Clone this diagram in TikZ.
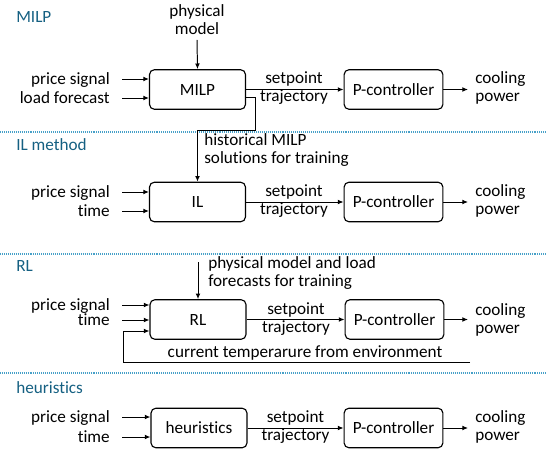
\documentclass[tikz,border=0pt]{standalone}
\usepackage{fontspec}
\setmainfont{Carlito}[Ligatures=NoCommon]
\usetikzlibrary{arrows.meta,positioning}
\definecolor{headblue}{RGB}{21,96,130}
\definecolor{sepblue}{RGB}{70,160,200}

\begin{document}
\begin{tikzpicture}[x=0.025cm,y=-0.025cm,
  every node/.style={font=\fontsize{12.2}{12.8}\selectfont},
  blk/.style={draw,rounded corners=3.5pt,line width=0.8pt,minimum width=2.4cm,minimum height=0.99cm,inner sep=0pt},
  pcb/.style={blk,minimum width=2.47cm},
  ttl/.style={headblue,anchor=west,inner sep=0pt},
  inl/.style={anchor=east,inner sep=0pt,text height=1.5ex,text depth=0pt},
  outl/.style={anchor=west,inner sep=0pt,align=left},
  arr/.style={-{Latex[length=4pt,width=3.4pt]},line width=0.7pt},
  inarr/.style={arr,shorten <=0.3cm},
  outarr/.style={arr,shorten >=0.175cm},
  sepline/.style={sepblue,line width=0.9pt,dash pattern=on 0.7pt off 0.7pt}]
  \useasboundingbox (0,0) rectangle (550,452);
  % separators
  \foreach \y in {132,254,373}
    \draw[sepline] (0,\y) -- (546,\y);

  % MILP
  \node[ttl] (tmilp) at (16,17) {MILP};
  \node[blk] (milp) at (197.5,89.5) {MILP};
  \node[pcb] (pc1) at (393.5,89.5) {P-controller};
  \node[align=center] (phys) at (197,20) {physical\\model};
  \node[inl] (p1) at (110,79) {price signal};
  \node[inl] (l1) at (110,98) {load forecast};
  \node[align=center] (s1) at (294,88) {setpoint\\trajectory};
  \node[outl] (c1) at (475,88) {cooling\\power};
  \draw[arr] (phys.south) -- (milp.north);
  \draw[inarr] (p1.east) -- (milp.west |- p1.east);
  \draw[inarr] (l1.east) -- (milp.west |- l1.east);
  \draw[arr] (milp) -- (pc1);
  \draw[outarr] (pc1.east) -- (pc1.east -| c1.west);
  % MILP solutions feed the IL training
  \coordinate (hk0) at (255,97);
  \coordinate (hk1) at (255,130);

  % IL method
  \node[ttl] (til) at (16,145) {IL method};
  \node[blk] (il) at (197.5,202) {IL};
  \node[pcb] (pc2) at (393.5,202) {P-controller};
  \node[outl] (hist) at (204,150) {historical MILP\\solutions for training};
  \node[inl] (p2) at (110,192) {price signal};
  \node[inl] (t2) at (110,211) {time};
  \node[align=center] (s2) at (294,201) {setpoint\\trajectory};
  \node[outl] (c2) at (475,201) {cooling\\power};
  \draw[arr] (milp.east |- hk0) -| (hk1) -| (il.north);
  \draw[inarr] (p2.east) -- (il.west |- p2.east);
  \draw[inarr] (t2.east) -- (il.west |- t2.east);
  \draw[arr] (il) -- (pc2);
  \draw[outarr] (pc2.east) -- (pc2.east -| c2.west);

  % RL
  \node[ttl] (trl) at (16,266) {RL};
  \node[blk] (rl) at (198,319.5) {RL};
  \node[pcb] (pc3) at (394.5,319.5) {P-controller};
  \node[outl] (train) at (208,273) {physical model and load\\forecasts for training};
  \node[inl] (p3) at (110,305) {price signal};
  \node[inl] (t3) at (110,320) {time};
  \node[align=center] (s3) at (296,319) {setpoint\\trajectory};
  \node[outl] (c3) at (475,320) {cooling\\power};
  \node (env) at (305,353) {current temperarure from environment};
  \coordinate (rtop) at (198,262);
  \coordinate (fbr) at (470,362);
  \coordinate (fbl) at (123,362);
  \coordinate (fbi) at (123,331);
  \draw[arr] (rtop) -- (rl.north);
  \draw[inarr] (p3.east) -- (rl.west |- p3.east);
  \draw[inarr] (t3.east) -- (rl.west |- t3.east);
  \draw[arr] (fbr) -- (fbl) -- (fbi) -- (rl.west |- fbi);
  \draw[arr] (rl) -- (pc3);
  \draw[outarr] (pc3.east) -- (pc3.east -| c3.west);

  % heuristics
  \node[ttl] (theu) at (16,388) {heuristics};
  \node[blk] (heu) at (199,428) {heuristics};
  \node[pcb] (pc4) at (393.5,428) {P-controller};
  \node[inl] (p4) at (110,417) {price signal};
  \node[inl] (t4) at (110,437) {time};
  \node[align=center] (s4) at (295.5,427) {setpoint\\trajectory};
  \node[outl] (c4) at (475,427) {cooling\\power};
  \draw[inarr] (p4.east) -- (heu.west |- p4.east);
  \draw[inarr] (t4.east) -- (heu.west |- t4.east);
  \draw[arr] (heu) -- (pc4);
  \draw[outarr] (pc4.east) -- (pc4.east -| c4.west);
\end{tikzpicture}
\end{document}
